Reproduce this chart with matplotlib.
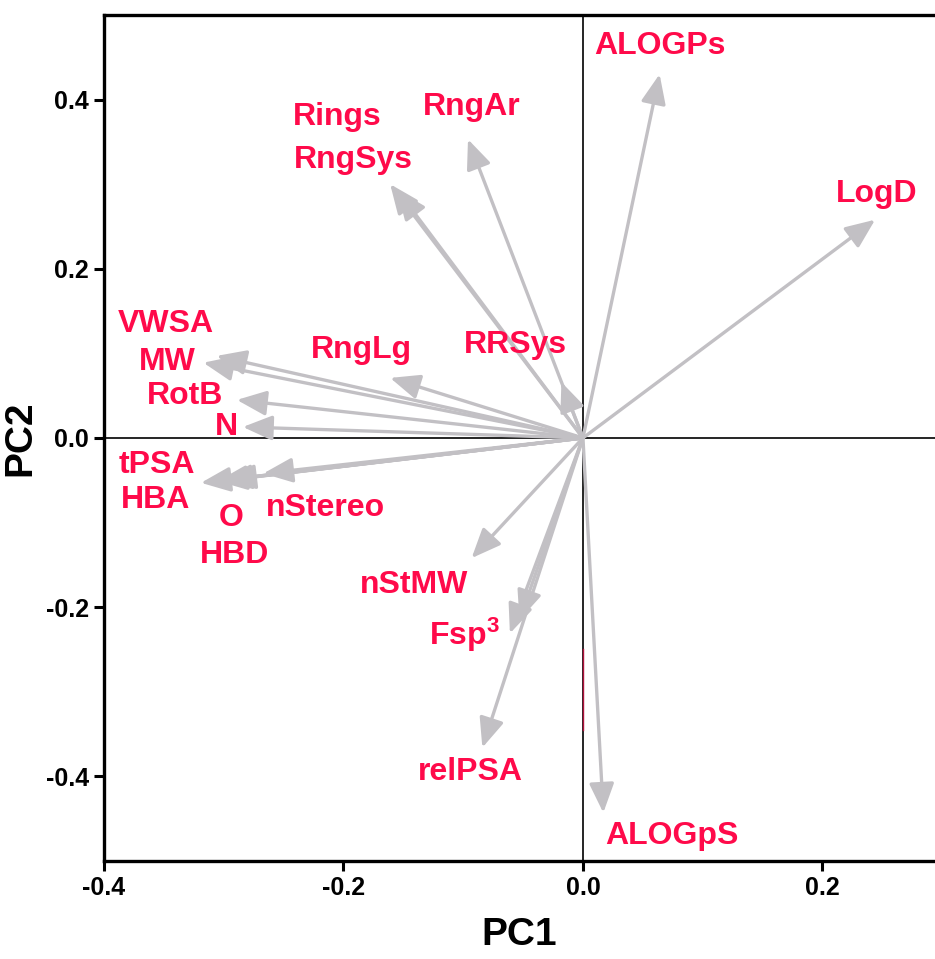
import matplotlib.pyplot as plt
import numpy as np

plt.rcParams['font.family'] = ['Liberation Sans', 'DejaVu Sans']
plt.rcParams['mathtext.fontset'] = 'custom'
plt.rcParams['mathtext.rm'] = 'Liberation Sans'
plt.rcParams['mathtext.bf'] = 'Liberation Sans:bold'

# loadings (arrow tips)
names = ['ALOGPs', 'LogD', 'Rings', 'RngSys', 'RngAr', 'VWSA', 'MW', 'RotB', 'N',
         'RngLg', 'RRSys', 'tPSA', 'HBA', 'O', 'HBD', 'nStereo', 'nStMW',
         'Fsp3a', 'Fsp3b', 'relPSA', 'ALOGpS']
pc1 = [0.064, 0.244, -0.161, -0.155, -0.096, -0.306, -0.317, -0.289, -0.284,
       -0.161, -0.018, -0.319, -0.305, -0.301, -0.298, -0.267, -0.093,
       -0.061, -0.053, -0.084, 0.017]
pc2 = [0.430, 0.258, 0.300, 0.293, 0.353, 0.097, 0.089, 0.045, 0.013,
       0.071, 0.066, -0.053, -0.051, -0.050, -0.050, -0.042, -0.142,
       -0.231, -0.215, -0.366, -0.443]

# label texts and their positions
labels = ['ALOGPs', 'LogD', 'Rings', 'RngSys', 'RngAr', 'VWSA', 'MW', 'RotB', 'N',
          'RngLg', 'RRSys', 'tPSA', 'HBA', 'O', 'HBD', 'nStereo', 'nStMW',
          r'$\mathbf{Fsp^{3}}$', 'relPSA', 'ALOGpS']
lab_x = [0.064, 0.245, -0.205, -0.192, -0.093, -0.348, -0.347, -0.332, -0.298,
         -0.185, -0.056, -0.356, -0.357, -0.294, -0.291, -0.215, -0.141,
         -0.099, -0.094, 0.074]
lab_y = [0.463, 0.288, 0.379, 0.329, 0.391, 0.135, 0.090, 0.050, 0.013,
         0.104, 0.110, -0.032, -0.073, -0.095, -0.138, -0.083, -0.174,
         -0.233, -0.395, -0.470]

red = '#FF0A4A'
grey = '#C2C0C4'

fig = plt.figure(figsize=(9.35, 9.59), dpi=100)
ax = fig.add_axes([0.1112, 0.1022, 0.8888, 0.8822])
ax.set_xlim(-0.4, 0.294)
ax.set_ylim(-0.5, 0.5)

ax.axhline(0, color='black', lw=1.2, zorder=1)
ax.axvline(0, color='black', lw=1.2, zorder=1)
# faint red artefact on the vertical axis
ax.plot([0, 0], [-0.25, -0.345], color='#B0103A', lw=1.0, zorder=1)

for x, y in zip(pc1, pc2):
    ax.annotate('', xy=(x, y), xytext=(0, 0),
                arrowprops=dict(arrowstyle='-|>,head_length=0.9,head_width=0.38',
                                mutation_scale=20, color=grey, lw=2.4,
                                shrinkA=0, shrinkB=0), zorder=2)

for t, x, y in zip(labels, lab_x, lab_y):
    ax.text(x, y, t, color=red, fontsize=23, fontweight='bold',
            ha='center', va='center', zorder=3)

ax.set_xticks([-0.4, -0.2, 0.0, 0.2])
ax.set_yticks([-0.4, -0.2, 0.0, 0.2, 0.4])
ax.set_xticklabels(['-0.4', '-0.2', '0.0', '0.2'])
ax.set_yticklabels(['-0.4', '-0.2', '0.0', '0.2', '0.4'])
ax.tick_params(direction='out', length=7, width=2.2, labelsize=18, pad=4)
for lab in ax.get_xticklabels() + ax.get_yticklabels():
    lab.set_fontweight('bold')

for s in ['left', 'bottom', 'top']:
    ax.spines[s].set_linewidth(2.4)
ax.spines['right'].set_visible(False)

ax.set_xlabel('PC1', fontsize=28, fontweight='bold', labelpad=12)
ax.set_ylabel('PC2', fontsize=28, fontweight='bold', labelpad=5)

fig.savefig('out.png', dpi=100)
